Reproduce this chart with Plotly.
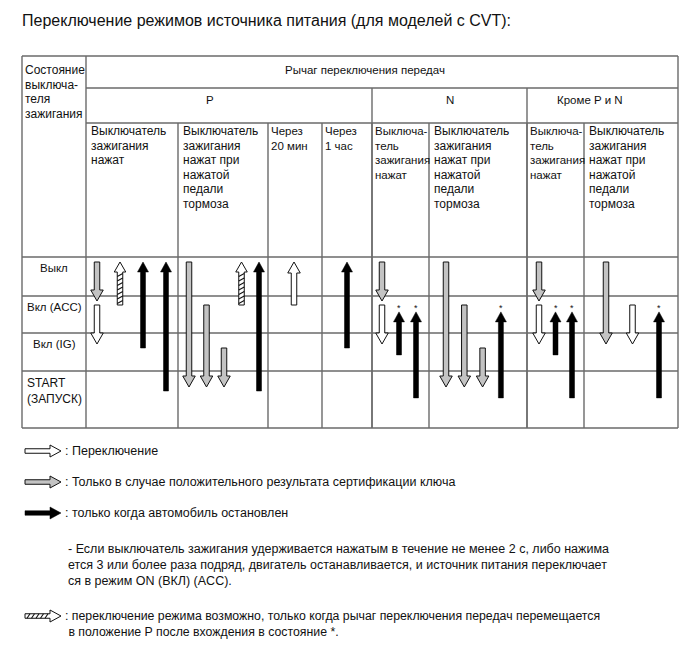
import plotly.graph_objects as go

# ---- content -------------------------------------------------------------
TITLE = "Переключение режимов источника питания (для моделей с CVT):"
STATE_HEADER = ["Состояние", "выключа-", "теля", "зажигания"]
LEVER_HEADER = "Рычаг переключения передач"
STATES = [["Выкл"], ["Вкл (ACC)"], ["Вкл (IG)"], ["START", "(ЗАПУСК)"]]
GROUPS = ["P", "N", "Кроме P и N"]
GROUP_COLS = [(0, 4), (4, 6), (6, 8)]

PRESS = ["Выключатель", "зажигания", "нажат"]
PRESS_NARROW = ["Выключа-", "тель", "зажигания", "нажат"]
PRESS_BRAKE = ["Выключатель", "зажигания", "нажат при", "нажатой", "педали", "тормоза"]
SUBCOLS = [PRESS, PRESS_BRAKE, ["Через", "20 мин"], ["Через", "1 час"],
           PRESS_NARROW, PRESS_BRAKE, PRESS_NARROW, PRESS_BRAKE]

# arrows: sub-column, state from, state to (0=Выкл .. 3=START), kind, marked with *
ARROW_COL = [0, 0, 0, 0, 0,
             1, 1, 1, 1, 1,
             2,
             3,
             4, 4, 4, 4,
             5, 5, 5, 5,
             6, 6, 6, 6,
             7, 7, 7]
ARROW_FROM = [0, 1, 1, 2, 3,
              0, 1, 2, 1, 3,
              1,
              2,
              0, 1, 2, 3,
              0, 1, 2, 3,
              0, 1, 2, 3,
              0, 1, 3]
ARROW_TO = [1, 2, 0, 0, 0,
            3, 3, 3, 0, 0,
            0,
            0,
            1, 2, 1, 1,
            3, 3, 3, 1,
            1, 2, 1, 1,
            2, 2, 1]
ARROW_KIND = ["cert", "switch", "hatch", "stop", "stop",
              "cert", "cert", "cert", "hatch", "stop",
              "switch",
              "stop",
              "cert", "switch", "stop", "stop",
              "cert", "cert", "cert", "stop",
              "cert", "switch", "stop", "stop",
              "cert", "switch", "stop"]
ARROW_STAR = [0, 0, 0, 0, 0,
              0, 0, 0, 0, 0,
              0,
              0,
              0, 0, 1, 1,
              0, 0, 0, 1,
              0, 0, 1, 1,
              0, 0, 1]

LEGEND_KINDS = ["switch", "cert", "stop"]
LEGEND_TEXT = [": Переключение",
               ": Только в случае положительного результата сертификации ключа",
               ": только когда автомобиль остановлен"]
NOTE = ["- Если выключатель зажигания удерживается нажатым в течение не менее 2 с, либо нажима",
        "ется 3 или более раза подряд, двигатель останавливается, и источник питания переключает",
        "ся в режим ON (ВКЛ) (ACC)."]
HATCH_NOTE = [": переключение режима возможно, только когда рычаг переключения передач перемещается",
              " в положение P после вхождения в состояние *."]

# ---- layout (pixels) -----------------------------------------------------
W, H = 690, 659
COL_X = [22, 86, 178, 268, 322, 372, 429, 527, 584, 678]
Y_TOP, Y_LEVER, Y_GROUP, Y_BODY = 56, 88, 123, 257
ROW_Y = [257, 296, 333, 371, 428]
GROUP_LABEL_X = [210, 450, 590]
LEVEL0_PX, LEVEL_STEP_PX = 262, 43          # state axis (y2) scale
SLOT_PAD = [11, 11, 26, 25, 10, 17, 12, 22]
SLOT_STEP = [23, 17.5, 0, 0, 17, 18.3, 16.5, 26.5]
GRID = "#6a6a6a"
FONT = "Liberation Sans, Arial, sans-serif"
NARROW = "Liberation Sans Narrow, Liberation Sans, Arial, sans-serif"

STYLE = {
    "switch": dict(fill="white", line="#111", lw=1, sw=5.5, hw=12.5, hl=11),
    "cert": dict(fill="#c3c3c3", line="#111", lw=1, sw=5.5, hw=12.5, hl=11),
    "hatch": dict(fill="white", line="#111", lw=1, sw=5.5, hw=11.5, hl=10),
    "stop": dict(fill="black", line="black", lw=0.5, sw=5, hw=11, hl=10),
}

PX = 1.0 / LEVEL_STEP_PX   # one pixel in state units

shapes, annotations = [], []


def line(x0, y0, x1, y1):
    shapes.append(dict(type="line", xref="x", yref="y", x0=x0, y0=y0, x1=x1, y1=y1,
                       line=dict(color=GRID, width=1.4)))


def text(x, y, s, size=12, anchor="left", family=FONT, yref="y"):
    annotations.append(dict(x=x, y=y, xref="x", yref=yref, text=s, showarrow=False,
                            xanchor=anchor, yanchor="middle",
                            font=dict(family=family, size=size, color="#111")))


def pts_path(pts, close=True):
    d = "M " + " L ".join(f"{a:.3f},{b:.4f}" for a, b in pts)
    return d + (" Z" if close else "")


def v_arrow(x, y0, y1, st):
    """vertical arrow in (pixel x, state-level y) coordinates"""
    d = 1 if y1 > y0 else -1
    yh = y1 - d * st["hl"] * PX
    sw, hw = st["sw"] / 2, st["hw"] / 2
    pts = [(x - sw, y0), (x - sw, yh), (x - hw, yh), (x, y1), (x + hw, yh),
           (x + sw, yh), (x + sw, y0)]
    return pts_path(pts), yh


def h_arrow(x0, x1, y, st):
    xh = x1 - st["hl"]
    sw, hw = st["sw"] / 2, st["hw"] / 2
    pts = [(x0, y - sw), (xh, y - sw), (xh, y - hw), (x1, y), (xh, y + hw),
           (xh, y + sw), (x0, y + sw)]
    return pts_path(pts), xh


def add_path(path, st, yref):
    shapes.append(dict(type="path", xref="x", yref=yref, path=path,
                       fillcolor=st["fill"], line=dict(color=st["line"], width=st["lw"])))


def add_stripes(segs, yref):
    d = " ".join(pts_path(s, close=False) for s in segs)
    shapes.append(dict(type="path", xref="x", yref=yref, path=d,
                       line=dict(color="#111", width=1.1)))


# ---- table grid ----------------------------------------------------------
line(COL_X[0], Y_TOP, COL_X[-1], Y_TOP)
line(COL_X[0], ROW_Y[-1], COL_X[-1], ROW_Y[-1])
line(COL_X[0], Y_TOP, COL_X[0], ROW_Y[-1])
line(COL_X[-1], Y_TOP, COL_X[-1], ROW_Y[-1])
line(COL_X[1], Y_TOP, COL_X[1], ROW_Y[-1])
line(COL_X[1], Y_LEVER, COL_X[-1], Y_LEVER)
line(COL_X[1], Y_GROUP, COL_X[-1], Y_GROUP)
for a, b in GROUP_COLS[1:]:
    line(COL_X[a + 1], Y_LEVER, COL_X[a + 1], ROW_Y[-1])
for i in range(2, len(COL_X) - 1):
    line(COL_X[i], Y_GROUP, COL_X[i], ROW_Y[-1])
for y in ROW_Y[:-1]:
    line(COL_X[0], y, COL_X[-1], y)

# ---- table text ----------------------------------------------------------
text(20, 20, TITLE, size=16)
for i, s in enumerate(STATE_HEADER):
    text(COL_X[0] + 1, 70 + i * 14.6, s)
text(365, 70, LEVER_HEADER, size=11.5, anchor="center")
for g, gx in zip(GROUPS, GROUP_LABEL_X):
    text(gx, 100, g, size=11.5, anchor="center")
for c, lines in enumerate(SUBCOLS):
    narrow = COL_X[c + 2] - COL_X[c + 1] < 60
    for i, s in enumerate(lines):
        text(COL_X[c + 1] + (0.5 if narrow else 2.5), 131 + i * 14.5, s,
             size=11.5 if narrow else 12)
for k, lab in enumerate(STATES):
    if len(lab) == 1:
        text((COL_X[0] + COL_X[1]) / 2, ROW_Y[k] + 11, lab[0], size=11.5, anchor="center")
    else:
        for i, s in enumerate(lab):
            text(COL_X[0] + 3, ROW_Y[k] + 12 + i * 15.5, s)

# ---- arrows (state axis y2) ----------------------------------------------
slot_of, last = [], {}
for i, c in enumerate(ARROW_COL):
    prev = last.get(c)
    if prev is not None and ARROW_FROM[i] == ARROW_TO[prev[0]] \
            and ARROW_TO[prev[0]] > ARROW_FROM[prev[0]] and ARROW_TO[i] > ARROW_FROM[i]:
        s = prev[1]
    else:
        s = 0 if prev is None else prev[1] + 1
    slot_of.append(s)
    last[c] = (i, s)

for i, c in enumerate(ARROW_COL):
    st = STYLE[ARROW_KIND[i]]
    x = COL_X[c + 1] + SLOT_PAD[c] + slot_of[i] * SLOT_STEP[c]
    y0, y1 = ARROW_FROM[i], ARROW_TO[i]
    if ARROW_STAR[i]:
        y0, y1 = y0 + 0.16, y1 + 0.16
    if y1 > y0:
        y1 -= 4 * PX
    path, yh = v_arrow(x, y0, y1, st)
    add_path(path, st, "y2")
    if ARROW_KIND[i] == "hatch":
        segs, y = [], y0 - 1.5 * PX
        while y - 3 * PX > yh:
            segs.append([(x - st["sw"] / 2, y), (x + st["sw"] / 2, y - 3 * PX)])
            y -= 4.5 * PX
        add_stripes(segs, "y2")
    if ARROW_STAR[i]:
        text(x, y1 - 4 * PX, "*", size=9, anchor="center", yref="y2")

# ---- legend --------------------------------------------------------------
LEG_STYLE = {k: dict(v, sw=4.5, hw=12, hl=11) for k, v in STYLE.items()}
for k, (kind, s) in enumerate(zip(LEGEND_KINDS, LEGEND_TEXT)):
    y = 451 + k * 31
    path, _ = h_arrow(25, 61, y, LEG_STYLE[kind])
    add_path(path, LEG_STYLE[kind], "y")
    text(63, y, s, size=12.5, family=NARROW)
for i, s in enumerate(NOTE):
    text(66, 549 + i * 16, s, size=12.5, family=NARROW)
hy = 616
path, xh = h_arrow(25, 61, hy, LEG_STYLE["hatch"])
add_path(path, LEG_STYLE["hatch"], "y")
segs, xx = [], 27
while xx + 3 < xh:
    segs.append([(xx, hy + 2.25), (xx + 3, hy - 2.25)])
    xx += 4.5
add_stripes(segs, "y")
for i, s in enumerate(HATCH_NOTE):
    text(63, hy + i * 16, s, size=12.3, family=NARROW)

# ---- figure --------------------------------------------------------------
fig = go.Figure()
fig.add_trace(go.Scatter(x=[0], y=[0], mode="markers", marker=dict(opacity=0),
                         hoverinfo="skip", showlegend=False))
fig.add_trace(go.Scatter(x=[0], y=[0], yaxis="y2", mode="markers", marker=dict(opacity=0),
                         hoverinfo="skip", showlegend=False))
fig.update_layout(
    width=W, height=H, autosize=False,
    margin=dict(l=0, r=0, t=0, b=0),
    paper_bgcolor="white", plot_bgcolor="white",
    xaxis=dict(range=[0, W], visible=False, fixedrange=True),
    yaxis=dict(range=[H, 0], visible=False, fixedrange=True),
    yaxis2=dict(range=[(H - LEVEL0_PX) / LEVEL_STEP_PX, -LEVEL0_PX / LEVEL_STEP_PX],
                overlaying="y", visible=False, fixedrange=True),
    shapes=shapes, annotations=annotations,
    showlegend=False,
)
# the page body has a default 8px margin; drop it so the figure fills the window
fig.write_html("out.html", config={"displayModeBar": False},
               post_script="document.body.style.margin='0';document.body.style.overflow='hidden';")
